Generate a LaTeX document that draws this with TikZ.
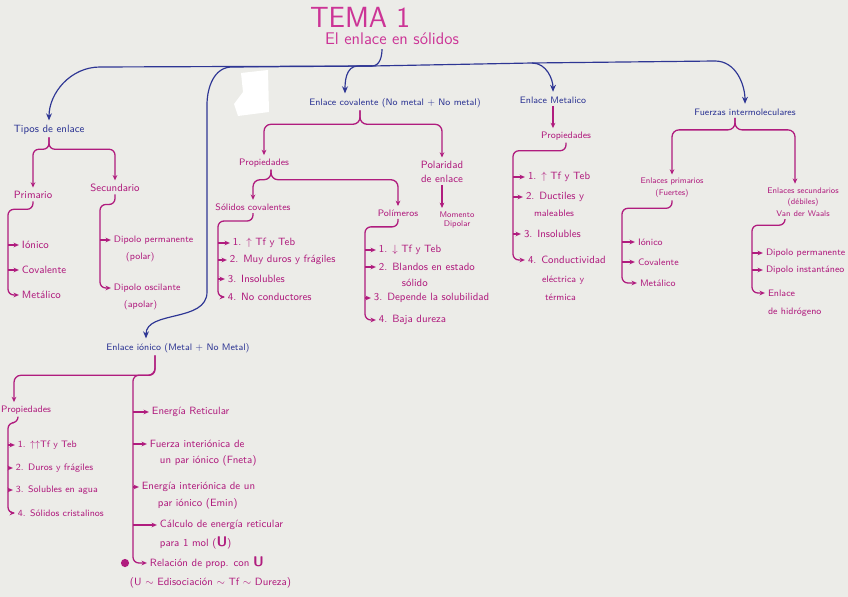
\documentclass[tikz,border=0pt]{standalone}
\usepackage{fontspec}
\usepackage{tikz}
\usetikzlibrary{arrows.meta,calc}
\definecolor{paper}{RGB}{236,236,232}
\definecolor{penblue}{RGB}{46,54,148}
\definecolor{penpink}{RGB}{176,28,126}
\definecolor{titlepink}{RGB}{204,52,150}

\begin{document}
\begin{tikzpicture}[x=0.03cm, y=-0.03cm, >=Stealth,
    bl/.style={draw=penblue, line width=1pt},
    blarr/.style={bl, -{Stealth[length=6pt,width=5pt]}, shorten >=2pt},
    mg/.style={draw=penpink, line width=1.1pt},
    mgarr/.style={mg, -{Stealth[length=4.5pt,width=4pt]}, shorten >=1pt},
    btxt/.style={text=penblue, font=\sffamily\footnotesize, inner sep=2pt},
    mtxt/.style={text=penpink, font=\sffamily\small, inner sep=2pt},
    item/.style={mtxt, anchor=west, inner sep=1.5pt}]

    % --- PAPER ---
    \fill[paper] (0,0) rectangle (848,597);
    \useasboundingbox (0,0) rectangle (848,597);
    \fill[white] (241,73) -- (268,70) -- (269,112) -- (238,116) -- (234,104) -- (243,92) -- cycle;

    % --- TITLE ---
    \node[text=titlepink, font=\sffamily\Huge] (tema) at (360,17) {TEMA 1};
    \node[text=titlepink, font=\sffamily\Large] (sub) at (392,39) {El enlace en sólidos};

    % --- MAIN TOPICS (blue) ---
    \node[btxt, font=\sffamily\small] (tipos) at (49,130) {Tipos de enlace};
    \node[btxt] (cov) at (395,103) {Enlace covalente (No metal + No metal)};
    \node[btxt] (met) at (553,100) {Enlace Metalico};
    \node[btxt] (fuer) at (745,112) {Fuerzas intermoleculares};
    \node[btxt] (ion) at (178,348) {Enlace iónico (Metal + No Metal)};

    \coordinate (hub) at (372,66);
    \coordinate (jm) at (532,63);
    \draw[bl] ($(sub.south)+(-10,0)$) to[out=-90,in=0] (hub);
    \draw[blarr] (hub) -- (100,67) to[out=180,in=90] (tipos.north);
    \draw[blarr] (hub) -- (232,67) to[out=180,in=90] (207,105) -- (207,292)
        to[out=-90,in=90] ($(ion.north)+(-32,0)$);
    \draw[blarr] (hub) -- (358,66) to[out=180,in=90] ($(cov.north)+(-50,0)$);
    \draw[blarr] (hub) -- (jm) -- (715,61) to[out=0,in=90] (fuer.north);
    \draw[blarr] (jm) to[out=0,in=90] (met.north);

    % --- TIPOS DE ENLACE ---
    \node[mtxt] (prim) at (33,195) {Primario};
    \node[mtxt] (secu) at (115,188) {Secundario};
    \draw[mgarr, rounded corners=5pt] (tipos.south) -- ++(0,12) -| (prim.north);
    \draw[mgarr, rounded corners=5pt] (tipos.south) -- ++(0,12) -| (secu.north);

    \node[item] (pi1) at (20,245) {Iónico};
    \node[item] (pi2) at (20,270) {Covalente};
    \node[item] (pi3) at (20,295) {Metálico};
    \coordinate (spa) at (8,0);
    \draw[mgarr, rounded corners=5pt] (prim.south) -- ++(0,8) -| (pi3.west -| spa) -- (pi3.west);
    \foreach \n in {pi1,pi2}
        \draw[mgarr] (\n.west -| spa) -- (\n.west);

    \node[item, font=\sffamily\footnotesize] (sd1) at (112,240) {Dipolo permanente};
    \node[item, font=\sffamily\footnotesize] (sd1b) at (124,257) {(polar)};
    \node[item, font=\sffamily\footnotesize] (sd2) at (112,288) {Dipolo oscilante};
    \node[item, font=\sffamily\footnotesize] (sd2b) at (122,305) {(apolar)};
    \coordinate (spb) at (100,0);
    \draw[mgarr, rounded corners=5pt] (secu.south) -- ++(0,10) -| (sd2.west -| spb) -- (sd2.west);
    \draw[mgarr] (sd1.west -| spb) -- (sd1.west);

    % --- ENLACE COVALENTE ---
    \node[mtxt, font=\sffamily\footnotesize] (prop1) at (264,163) {Propiedades};
    \node[mtxt, align=center] (pola) at (442,172) {Polaridad\\[1pt]de enlace};
    \node[mtxt, font=\sffamily\scriptsize, align=center] (mom) at (457,220) {Momento\\Dipolar};
    \coordinate (cb) at ($(cov.south)+(-35,0)$);
    \draw[mgarr, rounded corners=6pt] (cb) -- ++(0,14) -| (prop1.north);
    \draw[mgarr, rounded corners=6pt] (cb) -- ++(0,14) -| (pola.north);
    \draw[mgarr] (pola.south) -- (pola.south |- mom.north);

    \node[mtxt, font=\sffamily\footnotesize] (scov) at (253,207) {Sólidos covalentes};
    \node[mtxt, font=\sffamily\footnotesize] (poli) at (398,213) {Polímeros};
    \coordinate (pb) at ($(prop1.south)+(7,0)$);
    \draw[mgarr, rounded corners=6pt] (pb) -- ++(0,10) -| (scov.north);
    \draw[mgarr, rounded corners=6pt] (pb) -- ++(0,10) -| (poli.north);

    \node[item] (sc1) at (231,243) {1. $\uparrow$ Tf y Teb};
    \node[item] (sc2) at (228,260) {2. Muy duros y frágiles};
    \node[item] (sc3) at (226,279) {3. Insolubles};
    \node[item] (sc4) at (226,297) {4. No conductores};
    \coordinate (spc) at (218,0);
    \draw[mgarr, rounded corners=5pt] (scov.south) -- ++(0,8) -| (sc4.west -| spc) -- (sc4.west);
    \foreach \n in {sc1,sc2,sc3}
        \draw[mgarr] (\n.west -| spc) -- (\n.west);

    \node[item] (po1) at (377,250) {1. $\downarrow$ Tf y Teb};
    \node[item] (po2) at (377,267) {2. Blandos en estado};
    \node[item] (po2b) at (400,283) {sólido};
    \node[item] (po3) at (372,298) {3. Depende la solubilidad};
    \node[item] (po4) at (377,320) {4. Baja dureza};
    \coordinate (spd) at (365,0);
    \draw[mgarr, rounded corners=5pt] (poli.south) -- ++(0,8) -| (po4.west -| spd) -- (po4.west);
    \foreach \n in {po1,po2,po3}
        \draw[mgarr] (\n.west -| spd) -- (\n.west);

    % --- ENLACE METALICO ---
    \node[mtxt, font=\sffamily\footnotesize] (prop3) at (566,136) {Propiedades};
    \draw[mgarr] (met.south) -- (met.south |- prop3.north);

    \node[item] (me1) at (526,177) {1. $\uparrow$ Tf y Teb};
    \node[item] (me2) at (524,197) {2. Ductiles y};
    \node[item, font=\sffamily\footnotesize] (me2b) at (532,213) {maleables};
    \node[item] (me3) at (522,234) {3. Insolubles};
    \node[item] (me4) at (526,260) {4. Conductividad};
    \node[item, font=\sffamily\footnotesize] (me4b) at (540,280) {eléctrica y};
    \node[item, font=\sffamily\footnotesize] (me4c) at (543,297) {térmica};
    \coordinate (spe) at (513,0);
    \draw[mgarr, rounded corners=5pt] (prop3.south) -- ++(0,8) -| (me4.west -| spe) -- (me4.west);
    \foreach \n in {me1,me2,me3}
        \draw[mgarr] (\n.west -| spe) -- (\n.west);

    % --- FUERZAS INTERMOLECULARES ---
    \node[mtxt, font=\sffamily\scriptsize, align=center] (ep) at (672,188) {Enlaces primarios\\[2pt](Fuertes)};
    \node[mtxt, font=\sffamily\scriptsize, align=center] (es) at (803,202) {Enlaces secundarios\\[2pt](débiles)\\[2pt]Van der Waals};
    \coordinate (fb) at ($(fuer.south)+(-10,0)$);
    \draw[mgarr, rounded corners=6pt] (fb) -- ++(0,12) -| (ep.north);
    \draw[mgarr, rounded corners=6pt] (fb) -- ++(0,12) -| ($(es.north)+(-8,0)$);

    \node[item, font=\sffamily\footnotesize] (fp1) at (636,242) {Iónico};
    \node[item, font=\sffamily\footnotesize] (fp2) at (636,262) {Covalente};
    \node[item, font=\sffamily\footnotesize] (fp3) at (638,283) {Metálico};
    \coordinate (spf) at (622,0);
    \draw[mgarr, rounded corners=5pt] (ep.south) -- ++(0,8) -| (fp3.west -| spf) -- (fp3.west);
    \foreach \n in {fp1,fp2}
        \draw[mgarr] (\n.west -| spf) -- (\n.west);

    \node[item, font=\sffamily\footnotesize] (fs1) at (764,253) {Dipolo permanente};
    \node[item, font=\sffamily\footnotesize] (fs2) at (764,270) {Dipolo instantáneo};
    \node[item, font=\sffamily\footnotesize] (fs3) at (766,293) {Enlace};
    \node[item, font=\sffamily\footnotesize] (fs3b) at (766,312) {de hidrógeno};
    \coordinate (spg) at (752,0);
    \draw[mgarr, rounded corners=5pt] ($(es.south)+(-18,0)$) -- ++(0,6) -| (fs3.west -| spg) -- (fs3.west);
    \foreach \n in {fs1,fs2}
        \draw[mgarr] (\n.west -| spg) -- (\n.west);

    % --- ENLACE IONICO ---
    \node[mtxt, font=\sffamily\footnotesize] (prop4) at (26,410) {Propiedades};
    \coordinate (ib) at ($(ion.south)+(-23,0)$);
    \coordinate (spi) at (133,0);
    \draw[mgarr, rounded corners=6pt] (ib) -- ++(0,20) -| ($(prop4.north)+(-12,0)$);

    \node[item, font=\sffamily\footnotesize] (ip1) at (16,445) {1. $\uparrow\uparrow$Tf y Teb};
    \node[item, font=\sffamily\footnotesize] (ip2) at (14,468) {2. Duros y frágiles};
    \node[item, font=\sffamily\footnotesize] (ip3) at (14,490) {3. Solubles en agua};
    \node[item, font=\sffamily\footnotesize] (ip4) at (16,513) {4. Sólidos cristalinos};
    \coordinate (sph) at (8,0);
    \draw[mgarr, rounded corners=5pt] ($(prop4.south)+(-8,0)$) -- ++(0,6) -| (ip4.west -| sph) -- (ip4.west);
    \foreach \n in {ip1,ip2,ip3}
        \draw[mgarr] (\n.west -| sph) -- (\n.west);

    \node[item] (io1) at (150,412) {Energía Reticular};
    \node[item] (io2) at (148,444) {Fuerza interiónica de};
    \node[item] (io2b) at (158,461) {un par iónico (Fneta)};
    \node[item] (io3) at (140,487) {Energía interiónica de un};
    \node[item] (io3b) at (156,504) {par iónico (Emin)};
    \node[item] (io4) at (158,525) {Cálculo de energía reticular};
    \node[item] (io4b) at (158,543) {para 1 mol (\textbf{\large U})};
    \node[item] (io5) at (148,563) {Relación de prop. con \textbf{\large U}};
    \node[item] (io5b) at (128,583) {(U $\sim$ Edisociación $\sim$ Tf $\sim$ Dureza)};
    \node[circle, fill=penpink, inner sep=0pt, minimum size=7pt] (dot) at (125,563) {};
    \draw[mgarr, rounded corners=5pt] (ib) -- ++(0,20) -| (io5.west -| spi) -- (io5.west);
    \foreach \n in {io1,io2,io3,io4}
        \draw[mgarr] (\n.west -| spi) -- (\n.west);

\end{tikzpicture}
\end{document}
